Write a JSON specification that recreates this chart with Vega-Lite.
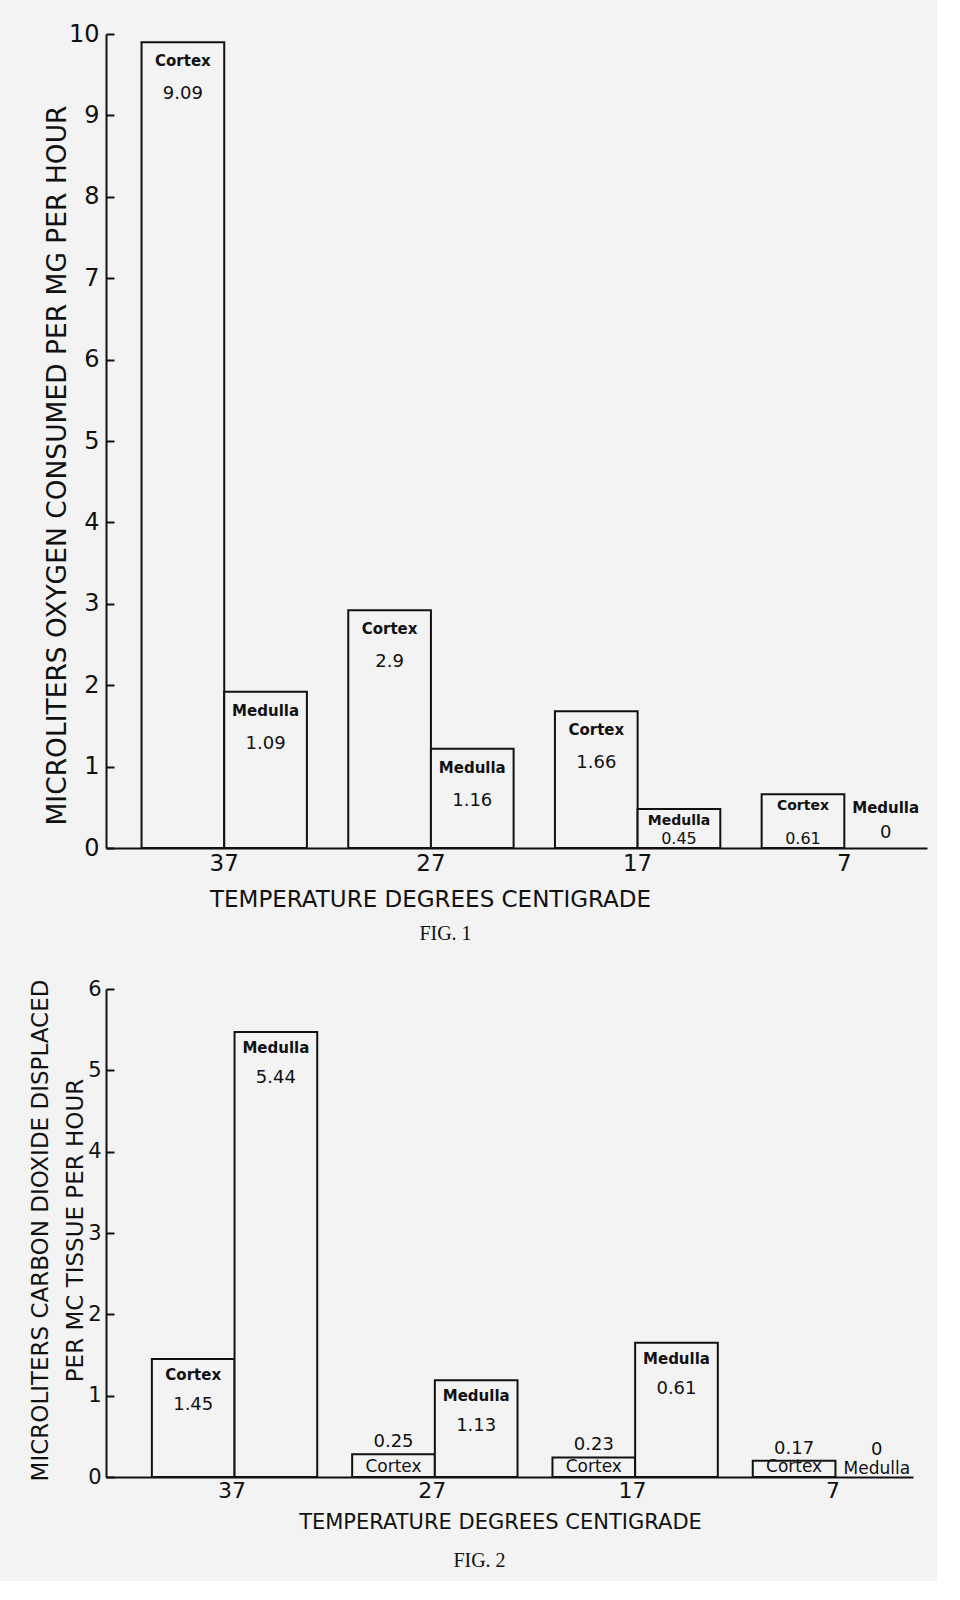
{
  "$schema": "https://vega.github.io/schema/vega-lite/v6.json",
  "background": "#f3f3f3",
  "padding": {"left": 28, "top": 22, "right": 10, "bottom": 10},
  "spacing": 34,
  "config": {
    "view": {"stroke": null},
    "font": "DejaVu Sans",
    "axis": {"domainColor": "#111111", "domainWidth": 2, "tickColor": "#111111", "tickWidth": 2, "labelColor": "#111111", "titleColor": "#111111", "grid": false, "labelFont": "DejaVu Sans", "titleFont": "DejaVu Sans", "titleFontWeight": "normal"},
    "text": {"color": "#111111", "font": "DejaVu Sans"}
  },
  "datasets": {
    "fig1": [
      {"temp": "37", "tissue": "Cortex", "height": 9.9, "printed": "9.09"},
      {"temp": "37", "tissue": "Medulla", "height": 1.92, "printed": "1.09"},
      {"temp": "27", "tissue": "Cortex", "height": 2.92, "printed": "2.9"},
      {"temp": "27", "tissue": "Medulla", "height": 1.22, "printed": "1.16"},
      {"temp": "17", "tissue": "Cortex", "height": 1.68, "printed": "1.66"},
      {"temp": "17", "tissue": "Medulla", "height": 0.48, "printed": "0.45"},
      {"temp": "7", "tissue": "Cortex", "height": 0.66, "printed": "0.61"},
      {"temp": "7", "tissue": "Medulla", "height": 0, "printed": "0"}
    ],
    "fig2": [
      {"temp": "37", "tissue": "Cortex", "height": 1.45, "printed": "1.45"},
      {"temp": "37", "tissue": "Medulla", "height": 5.47, "printed": "5.44"},
      {"temp": "27", "tissue": "Cortex", "height": 0.28, "printed": "0.25"},
      {"temp": "27", "tissue": "Medulla", "height": 1.19, "printed": "1.13"},
      {"temp": "17", "tissue": "Cortex", "height": 0.24, "printed": "0.23"},
      {"temp": "17", "tissue": "Medulla", "height": 1.65, "printed": "0.61"},
      {"temp": "7", "tissue": "Cortex", "height": 0.2, "printed": "0.17"},
      {"temp": "7", "tissue": "Medulla", "height": 0, "printed": "0"}
    ]
  },
  "vconcat": [
    {
      "width": 821,
      "height": 814,
      "data": {"name": "fig1"},
      "title": {"text": "FIG. 1", "orient": "bottom", "anchor": "middle", "frame": "group", "dx": -71, "offset": 13, "font": "Liberation Serif", "fontSize": 20, "fontWeight": "normal", "color": "#111111"},
      "encoding": {
        "x": {"field": "temp", "type": "ordinal", "sort": ["37", "27", "17", "7"],
          "scale": {"type": "band", "paddingInner": 0.2, "paddingOuter": 0.086, "align": 1},
          "axis": {"title": "TEMPERATURE DEGREES CENTIGRADE", "labelAngle": 0, "ticks": false, "labelFontSize": 23, "labelPadding": 4, "titleFontSize": 23, "titleX": 324, "titleY": 51, "titleBaseline": "middle", "titleAlign": "center"}},
        "xOffset": {"field": "tissue", "type": "nominal", "sort": ["Cortex", "Medulla"], "scale": {"paddingInner": 0, "paddingOuter": 0}},
        "y": {"field": "height", "type": "quantitative",
          "scale": {"domain": [0, 10], "nice": false},
          "axis": {"title": "MICROLITERS OXYGEN CONSUMED PER MG PER HOUR", "values": [0, 1, 2, 3, 4, 5, 6, 7, 8, 9, 10], "tickSize": -8, "labelFontSize": 24, "labelPadding": 15, "titleFontSize": 26.5, "titleAngle": -90, "titleX": -49, "titleY": 431, "titleBaseline": "middle", "titleAlign": "center"}}
      },
      "layer": [
        {"transform": [{"filter": "datum.height > 0"}], "mark": {"type": "bar", "fill": "#f3f3f3", "stroke": "#111111", "strokeWidth": 2}},
        {"transform": [{"filter": "datum.height >= 1"}], "mark": {"type": "text", "dy": 19, "fontSize": 15, "fontWeight": "bold", "baseline": "middle"}, "encoding": {"text": {"field": "tissue"}}},
        {"transform": [{"filter": "datum.height >= 1"}], "mark": {"type": "text", "dy": 52, "fontSize": 18, "baseline": "middle"}, "encoding": {"text": {"field": "printed"}}},
        {"transform": [{"filter": "datum.height > 0 && datum.height < 1"}], "mark": {"type": "text", "dy": 12, "fontSize": 14, "fontWeight": "bold", "baseline": "middle"}, "encoding": {"text": {"field": "tissue"}}},
        {"transform": [{"filter": "datum.height > 0 && datum.height < 1"}], "mark": {"type": "text", "dy": -9, "fontSize": 16, "baseline": "middle"}, "encoding": {"y": {"datum": 0}, "text": {"field": "printed"}}},
        {"transform": [{"filter": "datum.height == 0"}], "mark": {"type": "text", "dy": -40, "fontSize": 15, "fontWeight": "bold", "baseline": "middle"}, "encoding": {"y": {"datum": 0}, "text": {"field": "tissue"}}},
        {"transform": [{"filter": "datum.height == 0"}], "mark": {"type": "text", "dy": -15, "fontSize": 18, "baseline": "middle"}, "encoding": {"y": {"datum": 0}, "text": {"field": "printed"}}}
      ]
    },
    {
      "width": 807,
      "height": 488,
      "data": {"name": "fig2"},
      "title": {"text": "FIG. 2", "orient": "bottom", "anchor": "middle", "frame": "group", "dx": -30, "offset": 19, "font": "Liberation Serif", "fontSize": 20, "fontWeight": "normal", "color": "#111111"},
      "encoding": {
        "x": {"field": "temp", "type": "ordinal", "sort": ["37", "27", "17", "7"],
          "scale": {"type": "band", "paddingInner": 0.2, "paddingOuter": 0.1145, "align": 1},
          "axis": {"title": "TEMPERATURE DEGREES CENTIGRADE", "labelAngle": 0, "ticks": false, "labelFontSize": 22, "labelPadding": 3, "titleFontSize": 21, "titleX": 394, "titleY": 45, "titleBaseline": "middle", "titleAlign": "center"}},
        "xOffset": {"field": "tissue", "type": "nominal", "sort": ["Cortex", "Medulla"], "scale": {"paddingInner": 0, "paddingOuter": 0}},
        "y": {"field": "height", "type": "quantitative",
          "scale": {"domain": [0, 6], "nice": false},
          "axis": {"title": ["MICROLITERS CARBON DIOXIDE DISPLACED", "PER MC TISSUE PER HOUR"], "values": [0, 1, 2, 3, 4, 5, 6], "tickSize": -8, "labelFontSize": 21, "labelPadding": 13, "titleFontSize": 23, "titleLineHeight": 35, "titleAngle": -90, "titleX": -66, "titleY": 241, "titleBaseline": "middle", "titleAlign": "center"}}
      },
      "layer": [
        {"transform": [{"filter": "datum.height > 0"}], "mark": {"type": "bar", "fill": "#f3f3f3", "stroke": "#111111", "strokeWidth": 2}},
        {"transform": [{"filter": "datum.height >= 1"}], "mark": {"type": "text", "dy": 16, "fontSize": 15, "fontWeight": "bold", "baseline": "middle"}, "encoding": {"text": {"field": "tissue"}}},
        {"transform": [{"filter": "datum.height >= 1"}], "mark": {"type": "text", "dy": 46, "fontSize": 18, "baseline": "middle"}, "encoding": {"text": {"field": "printed"}}},
        {"transform": [{"filter": "datum.height > 0 && datum.height < 1"}], "mark": {"type": "text", "dy": -12, "fontSize": 18, "baseline": "middle"}, "encoding": {"text": {"field": "printed"}}},
        {"transform": [{"filter": "datum.height > 0 && datum.height < 1"}], "mark": {"type": "text", "dy": -10, "fontSize": 17, "baseline": "middle"}, "encoding": {"y": {"datum": 0}, "text": {"field": "tissue"}}},
        {"transform": [{"filter": "datum.height == 0"}], "mark": {"type": "text", "dy": -27, "fontSize": 18, "baseline": "middle"}, "encoding": {"y": {"datum": 0}, "text": {"field": "printed"}}},
        {"transform": [{"filter": "datum.height == 0"}], "mark": {"type": "text", "dy": -8, "fontSize": 17, "baseline": "middle"}, "encoding": {"y": {"datum": 0}, "text": {"field": "tissue"}}}
      ]
    }
  ]
}
